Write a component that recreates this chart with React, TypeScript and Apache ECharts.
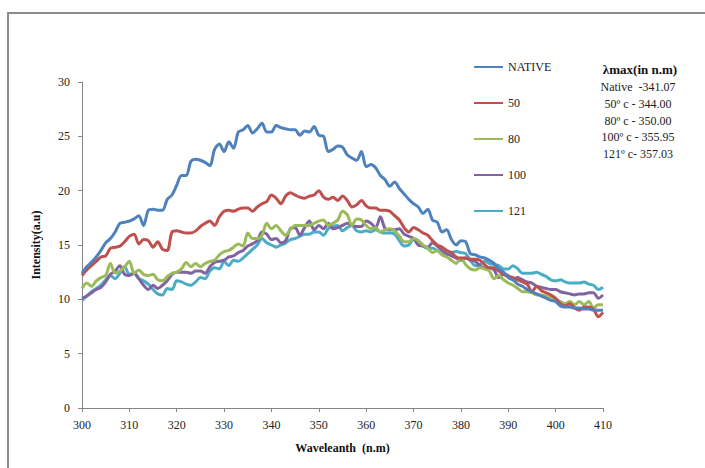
import React, { useEffect, useRef } from "react";
import * as echarts from "echarts";

const WL_START = 300;
const WL_END = 410;

const native = [12.4,13.0,13.4,13.9,14.5,15.2,15.6,16.2,17.0,17.1,17.2,17.4,17.7,16.8,18.2,18.3,18.2,18.2,19.2,19.6,20.5,21.4,21.4,22.7,22.9,22.8,22.6,22.3,23.8,24.3,23.6,24.5,23.9,25.4,25.6,26.0,25.3,25.7,26.2,25.4,25.4,26.0,25.8,25.7,25.6,25.6,25.1,25.5,25.4,25.9,25.1,25.0,23.6,23.8,24.1,24.0,23.3,23.0,22.8,23.6,22.2,22.4,22.1,21.4,21.0,20.4,20.8,20.2,19.7,19.2,18.8,18.5,17.9,18.3,17.3,17.1,16.2,16.4,15.5,15.0,15.4,15.3,14.2,14.1,13.9,13.8,13.6,13.3,12.8,12.5,12.0,11.8,11.4,11.2,10.9,10.7,10.5,10.3,10.1,9.9,9.8,9.4,9.3,9.3,9.2,9.2,9.1,9.1,9.0,9.0,9.0];
const t50 = [12.2,12.7,13.1,13.5,13.9,14.0,14.7,14.8,14.9,15.3,15.8,16.0,15.1,15.5,15.4,14.8,15.3,14.6,14.5,16.2,16.3,16.2,16.1,16.1,16.3,16.7,17.0,17.2,16.8,17.6,18.1,18.2,18.1,18.3,18.4,18.4,18.1,18.5,18.8,19.0,19.6,19.3,18.8,19.5,19.8,19.6,19.4,19.3,19.5,19.6,20.0,19.4,19.2,19.4,19.1,19.5,19.1,18.5,18.7,19.1,18.6,18.4,18.4,18.2,18.2,18.1,17.7,17.3,16.6,16.2,16.6,16.4,16.1,15.9,15.4,15.0,14.8,14.5,14.3,13.9,13.8,13.8,13.7,13.7,13.6,13.2,12.9,12.9,12.6,12.3,12.1,12.0,11.8,11.6,11.4,10.7,11.2,10.8,10.6,10.4,10.1,9.6,9.4,9.6,9.2,9.0,9.3,9.3,9.1,8.4,8.8];
const t80 = [11.0,11.5,11.2,11.7,12.0,12.2,13.3,12.4,12.6,13.0,13.5,12.4,12.7,12.3,12.2,12.3,11.8,11.7,12.1,12.4,12.5,12.8,13.4,13.0,13.3,13.0,13.3,13.5,13.6,14.1,14.4,14.5,14.8,15.1,14.9,16.1,15.6,15.6,15.9,17.0,16.5,16.8,16.3,15.9,16.4,16.8,16.8,16.8,16.8,17.0,17.2,17.3,16.8,17.0,17.3,18.1,17.8,16.8,17.4,17.3,16.8,16.5,16.6,16.2,16.4,16.5,16.3,15.8,15.3,15.3,15.6,15.4,15.0,14.7,14.3,14.5,14.1,13.9,13.6,13.3,13.8,13.2,12.8,12.7,12.9,12.8,12.6,11.9,12.2,11.8,11.5,11.3,11.0,10.7,10.7,10.6,10.4,10.4,10.3,10.2,10.0,9.8,9.6,9.8,9.5,9.8,9.5,9.8,9.2,9.5,9.5];
const t100 = [10.1,10.3,10.6,10.9,11.1,11.6,12.3,12.6,13.1,12.3,12.2,12.4,11.9,11.3,10.9,11.3,11.0,11.3,11.7,12.3,12.5,12.5,12.5,12.4,12.6,12.6,12.4,13.0,13.4,13.5,13.6,13.9,14.0,14.3,14.5,14.9,15.1,15.4,16.2,16.0,15.5,15.6,15.2,15.4,16.5,16.6,15.9,16.6,17.2,16.4,16.8,16.5,17.0,16.5,16.6,16.8,17.0,16.8,16.7,16.7,17.2,17.0,16.6,17.6,16.5,16.4,16.4,16.5,16.0,15.8,15.6,15.0,14.9,14.8,15.2,14.9,14.5,14.2,14.0,13.8,13.6,13.8,13.6,13.5,13.1,12.9,12.9,12.7,12.0,12.3,12.2,11.8,12.0,11.8,11.6,11.5,11.2,11.1,11.0,10.9,10.9,10.7,10.6,10.5,10.4,10.5,10.5,10.6,10.6,10.1,10.4];
const t121 = [9.9,10.3,10.7,11.0,11.3,11.8,12.2,11.9,12.4,13.0,12.3,12.4,11.9,11.7,11.4,10.9,10.5,10.4,11.0,10.9,11.7,11.6,11.4,11.3,11.6,12.0,11.9,12.6,12.9,12.8,13.5,13.1,13.6,13.5,13.8,14.2,14.6,15.0,15.6,15.2,15.0,14.8,15.0,15.2,15.5,15.6,15.8,16.0,16.0,16.2,16.2,15.9,16.5,16.7,16.8,16.3,16.6,16.8,16.3,16.2,16.3,16.2,16.4,16.2,16.1,16.1,16.0,15.4,14.9,15.0,15.5,15.4,14.9,14.7,14.7,14.5,14.2,14.1,14.3,14.4,14.3,14.2,13.6,13.1,13.2,13.5,13.3,13.2,13.1,12.8,12.8,13.1,12.8,12.4,12.4,12.4,12.5,12.3,12.1,11.8,11.7,11.8,11.6,11.5,11.5,11.5,11.6,11.4,11.3,10.9,11.1];

const seriesNames = ["NATIVE", "50", "80", "100", "121"];
const seriesValues = [native, t50, t80, t100, t121];
const seriesColors = ["#4F81BD", "#C0504D", "#9BBB59", "#8064A2", "#4BACC6"];

const annotationTitle = "λmax(in n.m)";
const annotationLines = [
  "Native  -341.07",
  "50º c - 344.00",
  "80º c - 350.00",
  "100º c - 355.95",
  "121º c- 357.03",
];

const FONT = "Liberation Serif";

export default function App() {
  const ref = useRef<HTMLDivElement>(null);
  useEffect(() => {
    if (!ref.current) return;
    const chart = echarts.init(ref.current, undefined, { renderer: "svg" });
    const series = seriesValues.map((vals, si) => ({
      name: seriesNames[si],
      type: "line",
      data: vals.map((v, i) => [WL_START + i, v]),
      showSymbol: false,
      symbol: "none",
      smooth: 0.3,
      lineStyle: { color: seriesColors[si], width: 3 },
      itemStyle: { color: seriesColors[si] },
      z: 10 - si,
    }));
    chart.setOption({
      animation: false,
      backgroundColor: "#ffffff",
      textStyle: { fontFamily: FONT },
      grid: { left: 82, right: 102, top: 82, bottom: 60, containLabel: false },
      legend: {
        orient: "vertical",
        left: 469,
        top: 56,
        itemWidth: 29,
        itemHeight: 2,
        itemGap: 24,
        icon: "rect",
        textStyle: { fontFamily: FONT, fontSize: 12, color: "#222" },
        data: seriesNames,
      },
      xAxis: {
        type: "value",
        min: WL_START,
        max: WL_END,
        interval: 10,
        name: "Waveleanth  (n.m)",
        nameLocation: "middle",
        nameGap: 34,
        nameTextStyle: { fontFamily: FONT, fontSize: 12, fontWeight: "bold", color: "#111" },
        axisLine: { lineStyle: { color: "#868686", width: 1 } },
        axisTick: { show: true, length: 4, lineStyle: { color: "#868686" } },
        axisLabel: { fontFamily: FONT, fontSize: 12, color: "#222", margin: 11 },
        splitLine: { show: false },
      },
      yAxis: {
        type: "value",
        min: 0,
        max: 30,
        interval: 5,
        name: "Intensity(a.u)",
        nameLocation: "middle",
        nameGap: 40,
        nameRotate: 90,
        nameTextStyle: { fontFamily: FONT, fontSize: 12, fontWeight: "bold", color: "#111" },
        axisLine: { show: true, lineStyle: { color: "#868686", width: 1 } },
        axisTick: { show: true, length: 4, lineStyle: { color: "#868686" } },
        axisLabel: { fontFamily: FONT, fontSize: 12, color: "#222", margin: 12 },
        splitLine: { show: false },
      },
      graphic: [
        {
          type: "rect",
          shape: { x: 8, y: 13, width: 720, height: 500 },
          style: { fill: "none", stroke: "#8c8c8c", lineWidth: 2 },
          silent: true,
          z: -10,
        },
        {
          type: "text",
          x: 640,
          y: 63,
          style: {
            text: annotationTitle,
            textAlign: "center",
            fontFamily: FONT,
            fontSize: 13,
            fontWeight: "bold",
            fill: "#111",
          },
        },
        ...annotationLines.map((t, i) => ({
          type: "text",
          x: 638,
          y: 81 + i * 16.8,
          style: {
            text: t,
            textAlign: "center",
            fontFamily: FONT,
            fontSize: 12,
            fill: "#222",
          },
        })),
      ],
      series,
    });
    return () => chart.dispose();
  }, []);
  return (
    <div
      ref={ref}
      style={{ position: "fixed", left: 0, top: 0, width: 705, height: 468, background: "#fff" }}
    />
  );
}
